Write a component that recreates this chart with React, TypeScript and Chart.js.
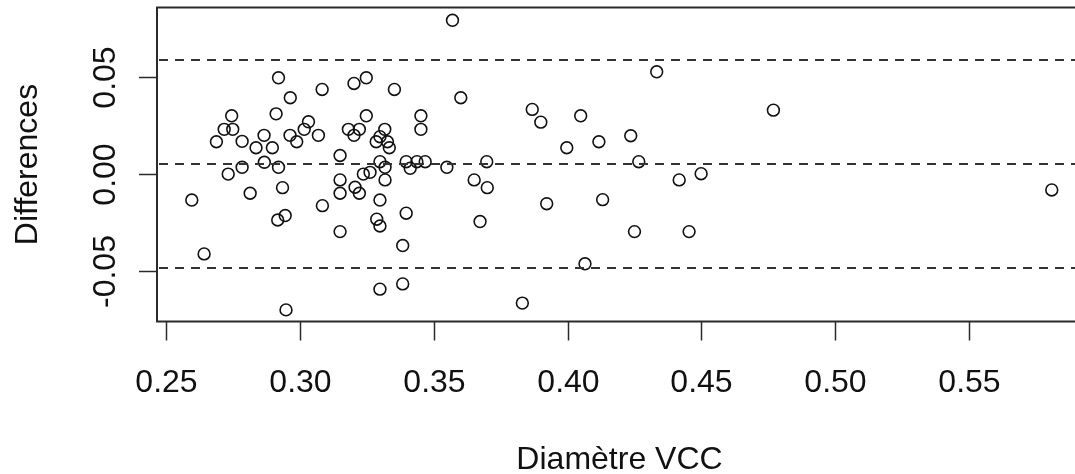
import React, { useEffect, useRef } from "react";
import { Chart, registerables } from "chart.js";

Chart.register(...registerables);

const diameters = [
  0.2596, 0.2642, 0.2688, 0.2717, 0.2732, 0.2745, 0.2749, 0.2784, 0.2784, 0.2814,
  0.2836, 0.2866, 0.2867, 0.2897, 0.2911, 0.2920, 0.2920, 0.2917, 0.2935, 0.2945,
  0.2948, 0.2964, 0.2963, 0.2988, 0.3016, 0.3032, 0.3069, 0.3083, 0.3084, 0.3150,
  0.3150, 0.3150, 0.3150, 0.3181, 0.3202, 0.3206, 0.3222, 0.3202, 0.3222, 0.3237,
  0.3248, 0.3248, 0.3262, 0.3285, 0.3287, 0.3299, 0.3299, 0.3299, 0.3299, 0.3299,
  0.3317, 0.3318, 0.3318, 0.3327, 0.3334, 0.3353, 0.3384, 0.3384, 0.3397, 0.3397,
  0.3412, 0.3437, 0.3452, 0.3452, 0.3468, 0.3549, 0.3570, 0.3601, 0.3651, 0.3673,
  0.3698, 0.3700, 0.3831, 0.3868, 0.3900, 0.3922, 0.3997, 0.4049, 0.4065, 0.4117,
  0.4131, 0.4236, 0.4250, 0.4266, 0.4333, 0.4417, 0.4454, 0.4499, 0.4769, 0.5809,
];

const differences = [
  -0.0136, -0.0414, 0.0165, 0.0229, -0.0002, 0.0299, 0.0229, 0.0167, 0.0033, -0.0101,
  0.0134, 0.0198, 0.0059, 0.0134, 0.0309, 0.0495, 0.0033, -0.0239, -0.0072, -0.0216,
  -0.0703, 0.0392, 0.0198, 0.0165, 0.0229, 0.0268, 0.0198, 0.0435, -0.0165, 0.0094,
  -0.0032, -0.0101, -0.0299, 0.0229, 0.0466, -0.0070, 0.0229, 0.0198, -0.0101, -0.0002,
  0.0495, 0.0299, 0.0007, 0.0165, -0.0235, 0.0191, 0.0062, -0.0136, -0.0270, -0.0596,
  0.0229, 0.0033, -0.0032, 0.0165, 0.0134, 0.0435, -0.0371, -0.0569, 0.0062, -0.0204,
  0.0028, 0.0062, 0.0299, 0.0229, 0.0062, 0.0033, 0.0792, 0.0392, -0.0032, -0.0247,
  0.0062, -0.0072, -0.0668, 0.0332, 0.0266, -0.0155, 0.0134, 0.0299, -0.0465, 0.0165,
  -0.0134, 0.0196, -0.0299, 0.0062, 0.0526, -0.0032, -0.0299, 0.0000, 0.0328, -0.0084,
];

// mean difference and limits of agreement
const referenceLines = [0.0587, 0.0051, -0.0486];

const xTicks = [0.25, 0.3, 0.35, 0.4, 0.45, 0.5, 0.55];
const xTickLabels = ["0.25", "0.30", "0.35", "0.40", "0.45", "0.50", "0.55"];
const yTicks = [-0.05, 0, 0.05];
const yTickLabels = ["-0.05", "0.00", "0.05"];

const xTitle = "Diamètre VCC";
const yTitle = "Differences";

const FONT = '32px "Liberation Sans", Arial, sans-serif';

const rPlot = {
  id: "rPlot",
  afterDraw(chart: any) {
    const { ctx, chartArea } = chart;
    const xs = chart.scales.x;
    const ys = chart.scales.y;
    const { left, right, top, bottom } = chartArea;
    ctx.save();

    // reference dashed lines
    ctx.strokeStyle = "#333";
    ctx.lineWidth = 2;
    ctx.setLineDash([9, 7]);
    for (const v of referenceLines) {
      const py = Math.round(ys.getPixelForValue(v));
      ctx.beginPath();
      ctx.moveTo(left + 2, py);
      ctx.lineTo(right, py);
      ctx.stroke();
    }
    ctx.setLineDash([]);

    // box
    ctx.strokeStyle = "#2a2a2a";
    ctx.lineWidth = 2;
    ctx.strokeRect(left, top, right - left, bottom - top);

    // x ticks
    ctx.fillStyle = "#111";
    ctx.font = FONT;
    ctx.textAlign = "center";
    ctx.textBaseline = "alphabetic";
    ctx.lineWidth = 1.5;
    xTicks.forEach((v, i) => {
      const px = Math.round(xs.getPixelForValue(v)) + 0.5;
      ctx.beginPath();
      ctx.moveTo(px, bottom);
      ctx.lineTo(px, bottom + 19);
      ctx.stroke();
      ctx.fillText(xTickLabels[i], px, 392);
    });

    // y ticks
    yTicks.forEach((v, i) => {
      const py = Math.round(ys.getPixelForValue(v)) + 0.5;
      ctx.beginPath();
      ctx.moveTo(left, py);
      ctx.lineTo(left - 18, py);
      ctx.stroke();
      ctx.save();
      ctx.translate(115, py);
      ctx.rotate(-Math.PI / 2);
      ctx.fillText(yTickLabels[i], 0, 0);
      ctx.restore();
    });

    // titles
    ctx.fillText(xTitle, (left + right) / 2, 469);
    ctx.save();
    ctx.translate(37, (top + bottom) / 2);
    ctx.rotate(-Math.PI / 2);
    ctx.fillText(yTitle, 0, 0);
    ctx.restore();

    ctx.restore();
  },
};

export default function App() {
  const ref = useRef<HTMLCanvasElement>(null);
  useEffect(() => {
    if (!ref.current) return;
    const chart = new Chart(ref.current, {
      type: "scatter",
      data: {
        datasets: [
          {
            data: diameters.map((x, i) => ({ x, y: differences[i] })),
            pointRadius: 5.9,
            pointHoverRadius: 5.9,
            pointBorderWidth: 1.6,
            pointBorderColor: "#111",
            pointBackgroundColor: "rgba(0,0,0,0)",
            showLine: false,
          },
        ],
      },
      options: {
        animation: false,
        responsive: false,
        devicePixelRatio: 1,
        layout: { padding: { left: 157, top: 7, right: 8, bottom: 152.5 } },
        plugins: { legend: { display: false }, tooltip: { enabled: false } },
        events: [],
        scales: {
          x: { type: "linear", min: 0.2466, max: 0.5922, display: false },
          y: { type: "linear", min: -0.0763, max: 0.0858, display: false },
        },
      },
      plugins: [rPlot],
    });
    return () => chart.destroy();
  }, []);
  return (
    <div
      style={{
        position: "fixed",
        left: 0,
        top: 0,
        width: 1075,
        height: 474,
        overflow: "hidden",
        background: "#fff",
      }}
    >
      <canvas ref={ref} width={1090} height={474} style={{ width: 1090, height: 474, display: "block" }} />
    </div>
  );
}
